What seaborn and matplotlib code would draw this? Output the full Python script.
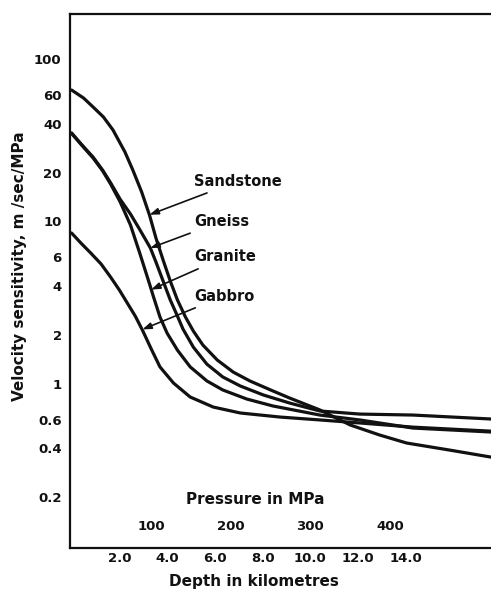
import matplotlib
matplotlib.use("Agg")
import matplotlib.pyplot as plt
import matplotlib.ticker as mticker
import seaborn as sns
import pandas as pd

# ---- data ----
pressure_sandstone = [0, 15, 27, 40, 52, 67, 77, 88, 98, 106, 115, 124, 133, 143, 153, 165,
                      183, 203, 224, 253, 274, 312, 350, 387, 421, 475, 527]
sens_sandstone = [64.5, 57.6, 50.7, 44.0, 36.6, 26.8, 20.7, 15.2, 10.9, 7.90, 5.78, 4.29, 3.28,
                  2.58, 2.11, 1.73, 1.40, 1.18, 1.04, 0.902, 0.816, 0.689, 0.557, 0.483, 0.431,
                  0.390, 0.353]

pressure_gneiss = [0, 13, 27, 39, 49, 61, 74, 86, 99, 106, 115, 124, 133, 140, 153, 170, 190,
                   212, 241, 274, 312, 362, 429, 527]
sens_gneiss = [35.1, 29.6, 24.9, 20.7, 17.3, 13.7, 11.1, 8.85, 6.86, 5.62, 4.29, 3.28, 2.61,
               2.17, 1.68, 1.32, 1.10, 0.968, 0.852, 0.760, 0.679, 0.650, 0.641, 0.606]

pressure_granite = [0, 13, 27, 39, 49, 61, 74, 86, 98, 103, 111, 120, 133, 149, 170, 190, 220,
                    253, 312, 362, 429, 527]
sens_granite = [34.8, 29.4, 24.6, 20.5, 17.0, 13.2, 9.50, 6.30, 4.11, 3.42, 2.58, 2.05, 1.61,
                1.27, 1.04, 0.915, 0.805, 0.729, 0.641, 0.598, 0.533, 0.504]

pressure_gabbro = [0, 12, 24, 37, 49, 60, 70, 80, 89, 100, 111, 128, 149, 178, 212, 262, 312,
                   362, 429, 527]
sens_gabbro = [8.48, 7.33, 6.39, 5.47, 4.54, 3.78, 3.14, 2.61, 2.14, 1.64, 1.27, 1.01, 0.828,
               0.718, 0.660, 0.623, 0.598, 0.573, 0.540, 0.510]

rock_names = ["Sandstone", "Gneiss", "Granite", "Gabbro"]
# label arrow tip (pressure, sensitivity) and label anchor (pressure, sensitivity)
label_tips = [(98, 11.0), (99, 6.86), (100, 3.8), (89, 2.16)]
label_pos = [(154, 17.7), (154, 10.0), (154, 6.04), (154, 3.47)]

y_ticks = [0.2, 0.4, 0.6, 1, 2, 4, 6, 10, 20, 40, 60, 100]
y_tick_labels = ["0.2", "0.4", "0.6", "1", "2", "4", "6", "10", "20", "40", "60", "100"]
pressure_ticks = [100, 200, 300, 400]
depth_ticks_km = [2.0, 4.0, 6.0, 8.0, 10.0, 12.0, 14.0]
mpa_per_km = 30.0

frames = []
for name, p, s in [("Sandstone", pressure_sandstone, sens_sandstone),
                   ("Gneiss", pressure_gneiss, sens_gneiss),
                   ("Granite", pressure_granite, sens_granite),
                   ("Gabbro", pressure_gabbro, sens_gabbro)]:
    frames.append(pd.DataFrame({"pressure": p, "sens": s, "rock": name}))
df = pd.concat(frames, ignore_index=True)

sns.set_style("white")
plt.rcParams["font.family"] = ["DejaVu Sans"]
plt.rcParams["font.weight"] = "bold"

ink = "#111111"
fig = plt.figure(figsize=(4.91, 5.90), dpi=100)
ax = fig.add_axes([70 / 491, 1 - 548 / 590, 421 / 491, 534 / 590])

sns.lineplot(data=df, x="pressure", y="sens", hue="rock", units="rock",
             estimator=None, sort=False, palette=[ink] * 4,
             linewidth=2.3, legend=False, ax=ax)
for ln in ax.get_lines():
    ln.set_solid_joinstyle("round")
    ln.set_solid_capstyle("round")

ax.set_yscale("log")
ax.set_ylim(0.0972, 189.7)
ax.set_xlim(-2, 527)

ax.yaxis.set_major_locator(mticker.FixedLocator(y_ticks))
ax.yaxis.set_major_formatter(mticker.FixedFormatter(y_tick_labels))
ax.yaxis.set_minor_locator(mticker.NullLocator())

depth_pos = [d * mpa_per_km for d in depth_ticks_km]
ax.set_xticks(depth_pos)
ax.set_xticklabels([f"{d:.1f}" for d in depth_ticks_km])
ax.xaxis.set_minor_locator(mticker.FixedLocator(pressure_ticks))

ax.tick_params(axis="y", which="major", direction="in", length=8.5, width=1.3,
               pad=6, labelsize=9.5, colors=ink)
ax.tick_params(axis="x", which="major", direction="in", length=8, width=1.3,
               pad=3, labelsize=9.5, colors=ink)
ax.tick_params(axis="x", which="minor", direction="in", length=8, width=1.3,
               colors=ink)

for p in pressure_ticks:
    ax.text(p, 0.028, str(p), transform=ax.get_xaxis_transform(),
            ha="center", va="bottom", fontsize=9.5, fontweight="bold", color=ink)

ax.text(0.44, 0.09, "Pressure in MPa", transform=ax.transAxes, ha="center",
        va="center", fontsize=11, fontweight="bold", color=ink)

ax.set_xlabel("Depth in kilometres", fontsize=11, fontweight="bold", color=ink)
ax.xaxis.set_label_coords(0.437, -0.048)
ax.set_ylabel("Velocity sensitivity, m /sec/MPa", fontsize=11, fontweight="bold",
              color=ink)
ax.yaxis.set_label_coords(-0.102, 0.528)

for name, tip, pos in zip(rock_names, label_tips, label_pos):
    ax.annotate(name, xy=tip, xytext=pos, ha="left", va="center",
                fontsize=10.5, fontweight="bold", color=ink,
                arrowprops=dict(arrowstyle="-|>,head_length=0.5,head_width=0.18",
                                color=ink, lw=1.2, shrinkA=2, shrinkB=0))

for side in ["left", "top", "bottom"]:
    ax.spines[side].set_linewidth(1.6)
    ax.spines[side].set_color(ink)
ax.spines["right"].set_visible(False)

fig.savefig("out.png", dpi=100)
